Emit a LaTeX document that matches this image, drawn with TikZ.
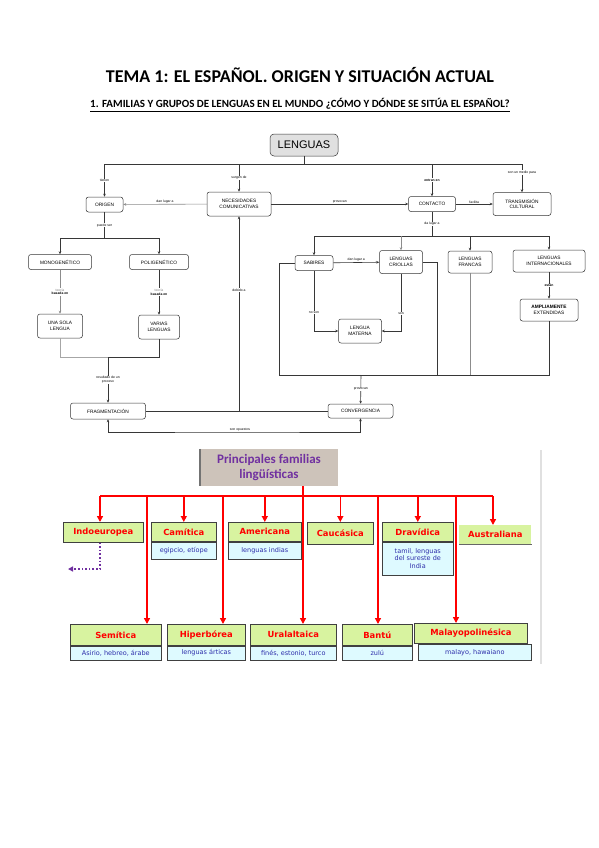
\documentclass[tikz,border=0pt]{standalone}
\usepackage{fontspec}
\setmainfont{Carlito}
\newfontfamily\mapfont{Liberation Sans}
\newfontfamily\famfont{DejaVu Sans}
\usetikzlibrary{positioning,arrows.meta,calc}

\definecolor{mapline}{RGB}{55,55,55}
\definecolor{famgreen}{RGB}{216,243,160}
\definecolor{famcyan}{RGB}{222,250,255}
\definecolor{famred}{RGB}{255,0,0}
\definecolor{fampurple}{RGB}{112,48,160}
\definecolor{boxbeige}{RGB}{205,195,186}
\definecolor{subblue}{RGB}{45,45,170}

\tikzset{
  concept/.style={draw=mapline, rounded corners=2.5pt, fill=white, align=center,
    font=\mapfont\fontsize{4.8}{5.6}\selectfont, inner sep=1pt, line width=0.5pt},
  linkline/.style={draw=mapline, line width=0.6pt},
  link/.style={linkline, -{Stealth[length=3pt,width=2.6pt]}},
  twolink/.style={linkline, {Stealth[length=3pt,width=2.6pt]}-{Stealth[length=3pt,width=2.6pt]}},
  linklabel/.style={font=\mapfont\fontsize{3.4}{3.9}\selectfont, align=center, inner sep=0.6pt},
  famhead/.style={draw=black!75, fill=famgreen, text=famred, line width=0.6pt,
    font=\famfont\bfseries\fontsize{8.4}{9}\selectfont, inner sep=0pt, anchor=north west},
  famsub/.style={draw=black!75, fill=famcyan, text=subblue, line width=0.6pt, align=center,
    font=\famfont\fontsize{6.5}{7.6}\selectfont, inner sep=0pt, anchor=north west},
  redline/.style={draw=famred, line width=1.4pt},
  redarrow/.style={redline, -{Triangle[length=6pt,width=6pt]}},
}

\begin{document}
\begin{tikzpicture}[x=1pt, y=-1pt]
  \useasboundingbox[fill=white] (0,0) rectangle (599,848);

  % titles
  \node[font=\bfseries\fontsize{18}{21}\selectfont] (tema) at (300,75)
    {TEMA 1: EL ESPAÑOL. ORIGEN Y SITUACIÓN ACTUAL};
  \node[font=\bfseries\fontsize{11}{13}\selectfont] (apartado) at (300,105)
    {\underline{1. FAMILIAS Y GRUPOS DE LENGUAS EN EL MUNDO ¿CÓMO Y DÓNDE SE SITÚA EL ESPAÑOL?}};

  % concept map: nodes
  \node[concept, fill=black!12, font=\mapfont\fontsize{11}{12}\selectfont,
    minimum width=68, minimum height=22, rounded corners=4pt] (lenguas) at (304,145) {LENGUAS};
  \node[concept, minimum width=37, minimum height=15] (origen) at (104.5,204.5) {ORIGEN};
  \node[concept, minimum width=64, minimum height=24] (necesidades) at (239,204) {NECESIDADES\\COMUNICATIVAS};
  \node[concept, minimum width=47, minimum height=15] (contacto) at (432,204) {CONTACTO};
  \node[concept, minimum width=58, minimum height=23] (transmision) at (522,204) {TRANSMISIÓN\\CULTURAL};
  \node[concept, minimum width=63, minimum height=15] (mono) at (60,262) {MONOGENÉTICO};
  \node[concept, minimum width=59, minimum height=15] (poli) at (159,262) {POLIGENÉTICO};
  \node[concept, minimum width=45, minimum height=24] (unasola) at (60,326) {UNA SOLA\\LENGUA};
  \node[concept, minimum width=41, minimum height=24] (varias) at (159,327) {VARIAS\\LENGUAS};
  \node[concept, minimum width=38, minimum height=15] (sabires) at (314,263) {SABIRES};
  \node[concept, minimum width=43, minimum height=23] (criollas) at (401,262) {LENGUAS\\CRIOLLAS};
  \node[concept, minimum width=44, minimum height=22] (francas) at (470,262) {LENGUAS\\FRANCAS};
  \node[concept, minimum width=72, minimum height=22] (internacionales) at (549,261) {LENGUAS\\INTERNACIONALES};
  \node[concept, minimum width=58, minimum height=22] (ampliamente) at (549,310)
    {\textbf{AMPLIAMENTE}\\EXTENDIDAS};
  \node[concept, minimum width=43, minimum height=24] (materna) at (360,331) {LENGUA\\MATERNA};
  \node[concept, minimum width=75, minimum height=16] (fragmentacion) at (108,411) {FRAGMENTACIÓN};
  \node[concept, minimum width=65, minimum height=14] (convergencia) at (360.5,411) {CONVERGENCIA};

  % concept map: bars
  \coordinate (lbar) at (304,164);
  \coordinate (obar) at (104.5,238);
  \coordinate (cbar) at (432,236);
  \coordinate (gbar) at (108,357);
  \coordinate (fbar) at (361,375);
  \coordinate (fleft) at (279,375);
  \coordinate (fcriollas) at (437,375);
  \coordinate (sbar) at (240,432);

  % concept map: connectors
  \draw[linkline] (lenguas) -- (lbar);
  \draw[link] (lbar) -| node[linklabel, pos=0.75, fill=white] {tienen} (origen);
  \draw[link] (lbar) -| node[linklabel, pos=0.65, fill=white] {son un medio para} (transmision);
  \draw[link] (necesidades |- lbar) -- node[linklabel, pos=0.5, fill=white] {surgen de} (necesidades);
  \draw[link] (contacto |- lbar) -- node[linklabel, pos=0.5, fill=white] {\textbf{entran en}} (contacto);
  \draw[link, draw=black!45] (necesidades) -- node[linklabel, above] {dan lugar a} (origen);
  \draw[link] (necesidades) -- node[linklabel, above] {provocan} (contacto);
  \draw[link] (contacto) -- node[linklabel, above] {facilita} (transmision);

  \draw[linkline] (origen) -- node[linklabel, fill=white] {puede ser} (obar);
  \draw[link] (obar) -| (mono);
  \draw[link] (obar) -| (poli);
  \draw[link, draw=black!45] (mono) -- node[linklabel, fill=white]
    {{\color{black!50}teoría}\\\textbf{basada en}} (unasola);
  \draw[link] (poli) -- node[linklabel, fill=white]
    {{\color{black!50}teoría}\\\textbf{basada en}} (varias);
  \draw[linkline, draw=black!35] (unasola) |- (gbar);
  \draw[linkline] (varias) |- (gbar);
  \draw[link] (gbar) -- node[linklabel, fill=white] {resultado de un\\proceso} (fragmentacion);

  \draw[linkline] (contacto) -- node[linklabel, fill=white] {da lugar a} (cbar);
  \draw[link] (cbar) -| (sabires);
  \draw[link] (cbar) -| (internacionales);
  \draw[link, draw=black!45] (criollas |- cbar) -- (criollas);
  \draw[link] (francas |- cbar) -- (francas);
  \draw[link] (sabires) -- node[linklabel, above] {dan lugar a} (criollas);
  \draw[link] (internacionales) -- node[linklabel, fill=white] {\textbf{están}} (ampliamente);
  \draw[link] (sabires) |- node[linklabel, pos=0.35, fill=white] {no son} (materna);
  \draw[link] (criollas) |- node[linklabel, pos=0.35, fill=white] {son} (materna);

  \draw[linkline] (sabires) -| (fleft) -- (fbar -| ampliamente) -- (ampliamente);
  \draw[linkline] (criollas) -| (fcriollas);
  \draw[linkline, draw=black!45] (francas) -- (francas |- fbar);
  \draw[link] (fbar) -- node[linklabel, fill=white] {provocan} (convergencia);

  \draw[linkline] (fragmentacion) -- (convergencia);
  \draw[link] (necesidades |- fragmentacion) -- node[linklabel, pos=0.62, fill=white] {debido a} (necesidades);
  \draw[twolink] (fragmentacion) |- (sbar) -| (convergencia);
  \node[linklabel, above] (opuestos) at (sbar) {son opuestos};

  % families
  \draw[black!12, line width=2pt] (541,450) -- (541,664);
  \node[fill=boxbeige, minimum width=138, minimum height=37, align=center, text=fampurple,
    font=\bfseries\fontsize{13}{14.5}\selectfont] (principales) at (269,467.5)
    {Principales familias\\lingüísticas};
  \draw[black!55, line width=1.5pt] (principales.north west) -- (principales.south west);

  % top row
  \node[famhead, minimum width=80, minimum height=20] (indoeuropea) at (63,522) {Indoeuropea};
  \node[famhead, minimum width=65, minimum height=19] (camitica) at (151,522) {Camítica};
  \node[famsub, minimum width=65, minimum height=17] (camiticasub) at (camitica.south west) {egipcio, etíope};
  \node[famhead, minimum width=73, minimum height=19] (americana) at (228,522) {Americana};
  \node[famsub, minimum width=73, minimum height=17] (americanasub) at (americana.south west) {lenguas indias};
  \node[famhead, minimum width=66, minimum height=22] (caucasica) at (307,522) {Caucásica};
  \node[famhead, minimum width=71, minimum height=19] (dravidica) at (382,522) {Dravídica};
  \node[famsub, minimum width=71, minimum height=33] (dravidicasub) at (dravidica.south west)
    {tamil, lenguas\\del sureste de\\India};
  \node[famhead, draw=none, minimum width=72, minimum height=19] (australiana) at (459,525) {Australiana};
  \draw[black!60, line width=0.8pt] (australiana.south west) -- (australiana.south east);

  % bottom row
  \node[famhead, minimum width=91, minimum height=21] (semitica) at (70,624) {Semítica};
  \node[famsub, minimum width=91, minimum height=14] (semiticasub) at (semitica.south west) {Asirio, hebreo, árabe};
  \node[famhead, minimum width=78, minimum height=21] (hiperborea) at (167,624) {Hiperbórea};
  \node[famsub, minimum width=78, minimum height=14] (hiperboreasub) at (hiperborea.south west) {lenguas árticas};
  \node[famhead, minimum width=86, minimum height=21] (uralaltaica) at (250,624) {Uralaltaica};
  \node[famsub, minimum width=86, minimum height=14] (uralaltaicasub) at (uralaltaica.south west) {finés, estonio, turco};
  \node[famhead, minimum width=70, minimum height=21] (bantu) at (342,624) {Bantú};
  \node[famsub, minimum width=70, minimum height=14] (bantusub) at (bantu.south west) {zulú};
  \node[famhead, minimum width=113, minimum height=20, line width=0.9pt] (malayo) at (414,623) {Malayopolinésica};
  \node[famsub, minimum width=113, minimum height=16] (malayosub) at ([xshift=4]malayo.south west) {malayo, hawaiano};

  % red connectors
  \coordinate (rbar) at (303,496);
  \coordinate (rleft) at (100,496);
  \coordinate (rright) at (493,496);
  \coordinate (dsemitica) at (147,496);
  \coordinate (dhiperborea) at (223,496);
  \coordinate (dbantu) at (378,496);
  \coordinate (dmalayo) at (456,496);
  \draw[redline] (rleft) -- (rright);
  \draw[redarrow] (rbar |- principales.south) -- (rbar |- uralaltaica.north);
  \draw[redarrow] (rleft) -- (rleft |- indoeuropea.north);
  \draw[redarrow] (camitica |- rbar) -- (camitica);
  \draw[redarrow] (americana |- rbar) -- (americana);
  \draw[redarrow] (caucasica |- rbar) -- (caucasica);
  \draw[redarrow] (dravidica |- rbar) -- (dravidica);
  \draw[redarrow] (rright) -- (rright |- australiana.north);
  \draw[redarrow] (dsemitica) -- (dsemitica |- semitica.north);
  \draw[redarrow] (dhiperborea) -- (dhiperborea |- hiperborea.north);
  \draw[redarrow] (dbantu) -- (dbantu |- bantu.north);
  \draw[redarrow] (dmalayo) -- (dmalayo |- malayo.north);

  % dotted arrow
  \coordinate (indoend) at (68,569);
  \draw[fampurple, line width=1.6pt, dotted, -{Triangle[length=5pt,width=5pt]}]
    (indoeuropea.south -| rleft) |- (indoend);
\end{tikzpicture}
\end{document}
